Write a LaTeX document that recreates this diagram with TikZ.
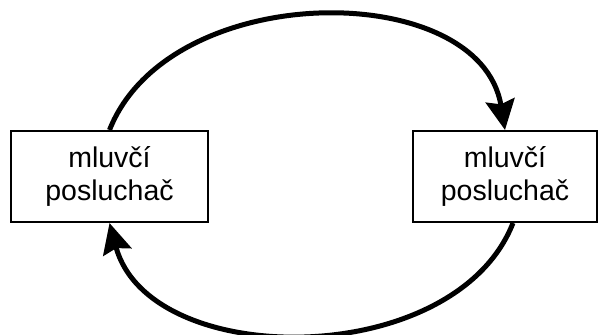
\documentclass[tikz,border=0pt]{standalone}
\usepackage{fontspec}
\setmainfont{Liberation Sans}
\usetikzlibrary{arrows.meta,calc}
\begin{document}
\begin{tikzpicture}[x=1pt,y=1pt,
  rolebox/.style={draw,line width=2pt,minimum width=197pt,minimum height=91pt,
    inner sep=0pt,align=center,font=\fontsize{28.5}{33}\selectfont},
  turn/.style={line width=5pt,-{Stealth[length=30pt,width=29pt,inset=4pt]}}]
\useasboundingbox (0,0) rectangle (606,335);
\node[rolebox] (lb) at (109.5,158.5) {mluvčí\\posluchač};
\node[rolebox,minimum width=184pt] (rb) at (505,158.5) {mluvčí\\posluchač};
% speaker -> listener over the top
\draw[turn] (lb.north) .. controls ($(lb.north)+(60,152)$) and ($(rb.north)+(-25,152)$) .. (rb.north);
% listener -> speaker underneath
\draw[turn] ($(rb.south)+(8,0)$) .. controls ($(rb.south)+(-50,-148)$) and ($(lb.south)+(40,-148)$) .. (lb.south);
\end{tikzpicture}
\end{document}
